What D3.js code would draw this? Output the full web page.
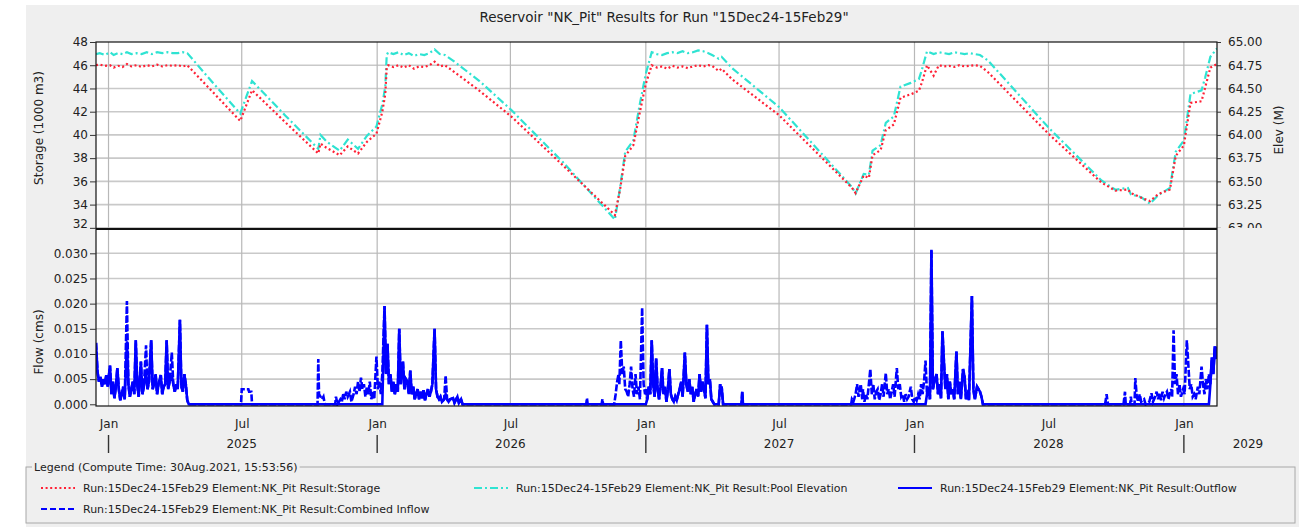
<!DOCTYPE html>
<html><head><meta charset="utf-8">
<script src="https://cdn.jsdelivr.net/npm/d3@7"></script>
<style>
html,body{margin:0;padding:0;background:#ffffff;}
svg{display:block;font-family:"DejaVu Sans",Verdana,sans-serif;}
</style></head><body>
<svg id="chart" width="1299" height="530"></svg>
<script>
// ---------------- DATA ----------------
const storageTicks = [32, 34, 36, 38, 40, 42, 44, 46, 48];
const elevTicks = [63.00, 63.25, 63.50, 63.75, 64.00, 64.25, 64.50, 64.75, 65.00];
const flowTicks = [0, 0.005, 0.010, 0.015, 0.020, 0.025, 0.030];
const yearLabels = ["2025", "2026", "2027", "2028", "2029"];

const levelDates = [
 "2024-12-15","2024-12-20","2024-12-27","2025-01-03","2025-01-08","2025-01-14",
 "2025-01-20","2025-01-26","2025-02-01","2025-02-08","2025-02-15","2025-02-22",
 "2025-03-01","2025-03-08","2025-03-15","2025-03-22","2025-03-29","2025-04-05",
 "2025-04-12","2025-04-18","2025-05-24","2025-06-29","2025-07-15","2025-08-29",
 "2025-10-13","2025-10-16","2025-10-24","2025-11-11","2025-11-22","2025-12-06",
 "2025-12-18","2025-12-31","2026-01-08","2026-01-12","2026-01-14","2026-01-16",
 "2026-01-23","2026-01-30","2026-02-06","2026-02-13","2026-02-20","2026-02-27",
 "2026-03-06","2026-03-13","2026-03-20","2026-03-27","2026-04-03","2026-04-14",
 "2026-05-20","2026-07-02","2026-09-10","2026-11-20","2026-11-27","2026-12-04",
 "2026-12-15","2026-12-24","2027-01-01","2027-01-09","2027-01-16","2027-01-23",
 "2027-01-30","2027-02-06","2027-02-13","2027-02-20","2027-02-27","2027-03-06",
 "2027-03-13","2027-03-20","2027-03-27","2027-04-01","2027-04-10","2027-04-14",
 "2027-04-28","2027-07-01","2027-10-08","2027-10-13","2027-10-24","2027-10-31",
 "2027-11-05","2027-11-16","2027-11-23","2027-12-04","2027-12-13","2027-12-27",
 "2028-01-07","2028-01-11","2028-01-18","2028-01-27","2028-02-03","2028-02-10",
 "2028-02-17","2028-02-24","2028-03-02","2028-03-09","2028-03-16","2028-03-23",
 "2028-03-30","2028-04-10","2028-07-01","2028-09-11","2028-09-30","2028-10-17",
 "2028-10-21","2028-11-04","2028-11-16","2028-11-27","2028-12-13","2028-12-21",
 "2029-01-01","2029-01-10","2029-01-25","2029-01-30","2029-02-06","2029-02-15"
];
// Storage (1000 m3)
const storage = [
 46.00,46.05,45.95,46.00,45.80,45.95,
 45.85,46.10,45.90,46.00,45.85,46.00,
 45.90,46.05,45.90,46.00,45.95,46.00,
 45.90,46.00,43.60,41.20,43.85,41.10,
 38.40,39.25,38.90,38.25,39.00,38.40,
 39.40,40.10,42.00,43.50,45.80,46.00,
 45.85,46.00,45.80,46.00,45.70,45.90,
 45.85,46.00,46.30,45.90,46.00,45.50,
 43.80,41.60,37.40,33.10,35.30,38.20,
 39.10,42.00,44.40,46.00,45.80,45.90,
 45.70,45.95,45.80,45.90,45.75,45.90,
 46.00,45.90,46.00,45.95,45.50,45.70,
 44.80,41.70,35.45,35.00,36.50,36.30,
 38.25,38.70,40.40,40.90,43.20,43.50,
 43.80,44.50,46.00,45.10,46.00,45.90,
 45.95,45.85,46.00,45.90,45.95,46.00,
 45.95,45.40,40.10,35.90,35.20,35.30,
 35.00,34.60,34.30,34.90,35.30,38.20,
 39.10,42.75,42.90,44.10,45.80,46.10
];
// Pool Elevation (M)
const poolElevation = [
 64.87,64.88,64.86,64.89,64.86,64.88,
 64.87,64.89,64.87,64.88,64.87,64.89,
 64.87,64.89,64.88,64.89,64.88,64.88,
 64.89,64.88,64.55,64.23,64.58,64.21,
 63.85,64.00,63.93,63.83,63.95,63.85,
 63.99,64.09,64.33,64.52,64.86,64.89,
 64.87,64.89,64.86,64.88,64.85,64.87,
 64.86,64.88,64.92,64.87,64.86,64.80,
 64.58,64.27,63.71,63.09,63.43,63.82,
 63.94,64.34,64.66,64.89,64.87,64.86,
 64.88,64.89,64.88,64.90,64.88,64.89,
 64.91,64.90,64.88,64.86,64.82,64.84,
 64.72,64.30,63.44,63.37,63.58,63.57,
 63.83,63.89,64.13,64.20,64.52,64.56,
 64.60,64.70,64.90,64.87,64.89,64.88,
 64.87,64.89,64.88,64.87,64.88,64.87,
 64.86,64.80,64.08,63.51,63.41,63.43,
 63.36,63.33,63.26,63.35,63.43,63.82,
 63.94,64.44,64.48,64.62,64.84,64.93
];

// Flow (cms): [date, combined inflow, outflow]
const flowSeason2025 = [
 ["2024-12-15",0.0122,0.0122],["2024-12-17",0.0065,0.0065],["2024-12-19",0.0045,0.0045],
 ["2024-12-21",0.0055,0.0055],["2024-12-23",0.0035,0.0035],["2024-12-25",0.0050,0.0050],
 ["2024-12-27",0.0040,0.0040],["2024-12-29",0.0058,0.0058],["2024-12-31",0.0035,0.0035],
 ["2025-01-03",0.0077,0.0077],["2025-01-05",0.0020,0.0020],["2025-01-07",0.0045,0.0045],
 ["2025-01-09",0.0012,0.0012],["2025-01-11",0.0035,0.0035],["2025-01-13",0.0072,0.0072],
 ["2025-01-15",0.0030,0.0030],["2025-01-17",0.0008,0.0008],["2025-01-19",0.0020,0.0020],
 ["2025-01-21",0.0035,0.0035],["2025-01-23",0.0010,0.0010],["2025-01-26",0.0205,0.0125],
 ["2025-01-28",0.0040,0.0040],["2025-01-30",0.0015,0.0015],["2025-02-01",0.0030,0.0030],
 ["2025-02-03",0.0045,0.0045],["2025-02-05",0.0020,0.0020],["2025-02-07",0.0127,0.0127],
 ["2025-02-09",0.0040,0.0040],["2025-02-11",0.0015,0.0015],["2025-02-14",0.0085,0.0085],
 ["2025-02-16",0.0020,0.0020],["2025-02-18",0.0035,0.0035],["2025-02-21",0.0117,0.0065],
 ["2025-02-23",0.0030,0.0030],["2025-02-25",0.0045,0.0045],["2025-02-28",0.0127,0.0127],
 ["2025-03-02",0.0030,0.0030],["2025-03-04",0.0042,0.0042],["2025-03-06",0.0060,0.0060],
 ["2025-03-08",0.0020,0.0020],["2025-03-10",0.0040,0.0040],["2025-03-13",0.0058,0.0058],
 ["2025-03-15",0.0020,0.0020],["2025-03-17",0.0035,0.0035],["2025-03-19",0.0040,0.0040],
 ["2025-03-21",0.0127,0.0127],["2025-03-23",0.0030,0.0030],["2025-03-25",0.0045,0.0045],
 ["2025-03-28",0.0103,0.0058],["2025-03-30",0.0040,0.0040],["2025-04-01",0.0025,0.0025],
 ["2025-04-03",0.0040,0.0040],["2025-04-05",0.0030,0.0030],["2025-04-08",0.0168,0.0168],
 ["2025-04-10",0.0035,0.0035],["2025-04-12",0.0025,0.0025],["2025-04-14",0.0060,0.0060],
 ["2025-04-16",0.0040,0.0040],["2025-04-18",0.0008,0.0008],["2025-04-20",0,0],
 ["2025-06-30",0,0],["2025-07-01",0.0030,0],["2025-07-10",0.0030,0],
 ["2025-07-11",0.0025,0],["2025-07-14",0.0025,0],["2025-07-15",0,0]
];
const flowSeason2026 = [
 ["2025-10-12",0,0],["2025-10-13",0.0090,0],["2025-10-14",0.0020,0],
 ["2025-10-16",0.0015,0],["2025-10-18",0.0010,0],["2025-10-20",0.0015,0],
 ["2025-10-22",0,0],["2025-11-05",0,0],["2025-11-06",0.0015,0],
 ["2025-11-08",0,0],["2025-11-12",0.0010,0],["2025-11-14",0.0005,0],
 ["2025-11-16",0.0022,0],["2025-11-18",0.0010,0],["2025-11-20",0.0025,0],
 ["2025-11-22",0.0015,0],["2025-11-25",0.0025,0],["2025-11-27",0.0005,0],
 ["2025-11-30",0.0020,0],["2025-12-02",0.0035,0],["2025-12-04",0.0020,0],
 ["2025-12-06",0.0045,0],["2025-12-08",0.0025,0],["2025-12-10",0.0053,0],
 ["2025-12-12",0.0030,0],["2025-12-14",0.0040,0],["2025-12-16",0.0015,0],
 ["2025-12-18",0.0035,0],["2025-12-20",0.0020,0],["2025-12-22",0.0045,0],
 ["2025-12-24",0.0010,0],["2025-12-26",0.0025,0],["2025-12-28",0.0010,0],
 ["2025-12-31",0.0095,0],["2026-01-02",0.0030,0],["2026-01-04",0.0045,0],
 ["2026-01-06",0.0020,0],["2026-01-08",0.0060,0],["2026-01-11",0.0195,0.0195],
 ["2026-01-13",0.0060,0.0060],["2026-01-15",0.0120,0.0120],["2026-01-17",0.0040,0.0040],
 ["2026-01-19",0.0060,0.0060],["2026-01-21",0.0025,0.0025],["2026-01-23",0.0045,0.0045],
 ["2026-01-25",0.0020,0.0020],["2026-01-27",0.0040,0.0040],["2026-01-29",0.0025,0.0025],
 ["2026-01-31",0.0150,0.0150],["2026-02-02",0.0040,0.0040],["2026-02-05",0.0085,0.0085],
 ["2026-02-07",0.0030,0.0030],["2026-02-09",0.0050,0.0050],["2026-02-11",0.0045,0.0045],
 ["2026-02-13",0.0020,0.0020],["2026-02-15",0.0067,0.0067],["2026-02-17",0.0020,0.0020],
 ["2026-02-19",0.0035,0.0035],["2026-02-21",0.0010,0.0010],["2026-02-23",0.0020,0.0020],
 ["2026-02-25",0.0030,0.0030],["2026-02-27",0.0010,0.0010],["2026-03-01",0.0025,0.0025],
 ["2026-03-03",0.0012,0.0012],["2026-03-05",0.0028,0.0028],["2026-03-07",0.0008,0.0008],
 ["2026-03-09",0.0020,0.0020],["2026-03-11",0.0030,0.0030],["2026-03-13",0.0015,0.0015],
 ["2026-03-15",0.0025,0.0025],["2026-03-17",0.0040,0.0040],["2026-03-20",0.0150,0.0150],
 ["2026-03-22",0.0030,0.0030],["2026-03-24",0.0015,0.0015],["2026-03-26",0.0010,0.0010],
 ["2026-03-28",0.0015,0.0015],["2026-03-30",0.0005,0.0005],["2026-04-02",0.0010,0.0010],
 ["2026-04-04",0.0057,0.0020],["2026-04-06",0.0010,0.0010],["2026-04-08",0.0005,0.0005],
 ["2026-04-10",0.0010,0.0010],["2026-04-14",0.0012,0.0012],["2026-04-16",0.0003,0.0003],
 ["2026-04-20",0.0015,0.0015],["2026-04-22",0.0003,0.0003],["2026-04-25",0.0010,0.0010],
 ["2026-04-27",0,0]
];
const flowSeason2027 = [
 ["2026-10-12",0,0],["2026-10-13",0.0012,0],["2026-10-14",0,0],
 ["2026-11-02",0,0],["2026-11-03",0.0010,0],["2026-11-04",0,0],
 ["2026-11-19",0,0],["2026-11-21",0.0020,0],["2026-11-23",0.0045,0],
 ["2026-11-25",0.0060,0],["2026-11-26",0.0040,0],["2026-11-28",0.0127,0],
 ["2026-11-30",0.0060,0],["2026-12-02",0.0075,0],["2026-12-04",0.0030,0],
 ["2026-12-06",0.0025,0],["2026-12-08",0.0015,0],["2026-12-10",0.0040,0],
 ["2026-12-12",0.0075,0],["2026-12-14",0.0030,0],["2026-12-16",0.0015,0],
 ["2026-12-18",0.0060,0],["2026-12-20",0.0020,0],["2026-12-22",0.0035,0],
 ["2026-12-24",0.0010,0],["2026-12-27",0.0192,0],["2026-12-29",0.0040,0],
 ["2026-12-31",0.0020,0],["2027-01-01",0.0030,0],["2027-01-03",0.0010,0.0010],
 ["2027-01-05",0.0035,0.0035],["2027-01-07",0.0020,0.0020],["2027-01-09",0.0127,0.0127],
 ["2027-01-11",0.0040,0.0040],["2027-01-13",0.0015,0.0015],["2027-01-15",0.0091,0.0091],
 ["2027-01-17",0.0030,0.0030],["2027-01-19",0.0010,0.0010],["2027-01-21",0.0035,0.0035],
 ["2027-01-23",0.0072,0.0072],["2027-01-25",0.0020,0.0020],["2027-01-27",0.0035,0.0035],
 ["2027-01-29",0.0005,0.0005],["2027-01-31",0.0030,0.0030],["2027-02-02",0.0070,0.0070],
 ["2027-02-04",0.0020,0.0020],["2027-02-06",0.0010,0.0010],["2027-02-08",0.0005,0.0005],
 ["2027-02-10",0.0015,0.0015],["2027-02-12",0.0008,0.0008],["2027-02-14",0.0020,0.0020],
 ["2027-02-16",0.0030,0.0030],["2027-02-18",0.0045,0.0045],["2027-02-20",0.0015,0.0015],
 ["2027-02-23",0.0103,0.0103],["2027-02-25",0.0040,0.0040],["2027-02-27",0.0025,0.0025],
 ["2027-03-01",0.0050,0.0050],["2027-03-03",0.0020,0.0020],["2027-03-05",0.0035,0.0035],
 ["2027-03-07",0.0005,0.0005],["2027-03-09",0.0020,0.0020],["2027-03-11",0.0030,0.0030],
 ["2027-03-13",0.0015,0.0015],["2027-03-15",0.0060,0.0060],["2027-03-17",0.0025,0.0025],
 ["2027-03-19",0.0045,0.0045],["2027-03-21",0.0030,0.0030],["2027-03-23",0.0012,0.0012],
 ["2027-03-25",0.0158,0.0158],["2027-03-27",0.0040,0.0040],["2027-03-29",0.0050,0.0050],
 ["2027-03-31",0.0010,0.0010],["2027-04-02",0.0005,0.0005],["2027-04-04",0,0],
 ["2027-04-10",0,0],["2027-04-12",0.0040,0.0040],["2027-04-13",0.0020,0.0020],
 ["2027-04-14",0.0035,0.0035],["2027-04-16",0,0],["2027-05-11",0,0],
 ["2027-05-12",0.0025,0.0025],["2027-05-13",0,0]
];
const flowSeason2028 = [
 ["2027-10-07",0,0],["2027-10-08",0.0010,0],["2027-10-10",0.0005,0],
 ["2027-10-13",0.0020,0],["2027-10-15",0.0040,0],["2027-10-17",0.0015,0],
 ["2027-10-20",0.0040,0],["2027-10-22",0.0010,0],["2027-10-23",0.0030,0],
 ["2027-10-25",0.0005,0],["2027-10-27",0.0020,0],["2027-10-29",0.0010,0],
 ["2027-11-02",0.0070,0],["2027-11-04",0.0020,0],["2027-11-06",0.0040,0],
 ["2027-11-08",0.0010,0],["2027-11-10",0.0025,0],["2027-11-12",0.0030,0],
 ["2027-11-14",0.0008,0],["2027-11-16",0.0020,0],["2027-11-18",0.0040,0],
 ["2027-11-20",0.0015,0],["2027-11-23",0.0062,0],["2027-11-25",0.0020,0],
 ["2027-11-27",0.0030,0],["2027-11-29",0.0010,0],["2027-12-01",0.0025,0],
 ["2027-12-03",0.0040,0],["2027-12-05",0.0015,0],["2027-12-08",0.0072,0],
 ["2027-12-10",0.0030,0],["2027-12-12",0.0040,0],["2027-12-14",0.0015,0],
 ["2027-12-16",0.0020,0],["2027-12-18",0.0005,0],["2027-12-20",0.0020,0],
 ["2027-12-22",0.0010,0],["2027-12-24",0.0015,0],["2027-12-27",0.0035,0],
 ["2027-12-29",0.0010,0],["2027-12-31",0.0005,0],["2028-01-02",0.0015,0],
 ["2028-01-04",0.0008,0],["2028-01-06",0.0020,0],["2028-01-08",0.0010,0],
 ["2028-01-10",0.0040,0],["2028-01-12",0.0020,0],["2028-01-14",0.0045,0],
 ["2028-01-16",0.0087,0],["2028-01-18",0.0020,0.0020],["2028-01-20",0.0035,0.0035],
 ["2028-01-22",0.0010,0.0010],["2028-01-24",0.0307,0.0307],["2028-01-26",0.0030,0.0030],
 ["2028-01-28",0.0045,0.0045],["2028-01-31",0.0060,0.0060],["2028-02-02",0.0020,0.0020],
 ["2028-02-04",0.0040,0.0040],["2028-02-06",0.0012,0.0012],["2028-02-08",0.0145,0.0145],
 ["2028-02-10",0.0085,0.0085],["2028-02-12",0.0030,0.0030],["2028-02-14",0.0060,0.0060],
 ["2028-02-16",0.0010,0.0010],["2028-02-18",0.0045,0.0045],["2028-02-20",0.0020,0.0020],
 ["2028-02-22",0.0030,0.0030],["2028-02-24",0.0010,0.0010],["2028-02-27",0.0105,0.0105],
 ["2028-02-29",0.0020,0.0020],["2028-03-02",0.0045,0.0045],["2028-03-04",0.0010,0.0010],
 ["2028-03-07",0.0070,0.0070],["2028-03-09",0.0055,0.0055],["2028-03-11",0.0010,0.0010],
 ["2028-03-13",0.0020,0.0020],["2028-03-15",0.0008,0.0008],["2028-03-19",0.0215,0.0215],
 ["2028-03-21",0.0030,0.0030],["2028-03-23",0.0010,0.0010],["2028-03-26",0.0035,0.0035],
 ["2028-03-28",0.0030,0.0030],["2028-03-30",0.0025,0.0025],["2028-04-01",0.0015,0.0015],
 ["2028-04-03",0,0]
];
const flowSeason2029 = [
 ["2028-09-16",0,0],["2028-09-18",0.0020,0],["2028-09-19",0.0008,0],
 ["2028-09-20",0,0],["2028-10-11",0,0],["2028-10-13",0.0025,0],
 ["2028-10-14",0,0],["2028-10-20",0,0],["2028-10-21",0.0015,0],
 ["2028-10-22",0,0],["2028-10-26",0,0],["2028-10-27",0.0052,0],
 ["2028-10-29",0.0015,0],["2028-10-31",0.0005,0],["2028-11-02",0.0020,0],
 ["2028-11-04",0.0005,0],["2028-11-08",0.0010,0],["2028-11-10",0,0],
 ["2028-11-15",0.0005,0],["2028-11-18",0.0022,0],["2028-11-20",0.0005,0],
 ["2028-11-23",0.0015,0],["2028-11-25",0.0025,0],["2028-11-27",0.0010,0],
 ["2028-11-29",0.0022,0],["2028-12-01",0.0008,0],["2028-12-03",0.0025,0],
 ["2028-12-05",0.0012,0],["2028-12-07",0.0020,0],["2028-12-09",0.0025,0],
 ["2028-12-11",0.0010,0],["2028-12-13",0.0022,0],["2028-12-15",0.0030,0],
 ["2028-12-16",0.0015,0],["2028-12-18",0.0147,0],["2028-12-20",0.0040,0],
 ["2028-12-22",0.0060,0],["2028-12-24",0.0020,0],["2028-12-26",0.0040,0],
 ["2028-12-28",0.0015,0],["2028-12-31",0.0030,0],["2029-01-02",0.0020,0],
 ["2029-01-05",0.0127,0],["2029-01-07",0.0080,0],["2029-01-09",0.0030,0],
 ["2029-01-11",0.0040,0],["2029-01-13",0.0015,0],["2029-01-15",0.0020,0],
 ["2029-01-17",0.0010,0],["2029-01-20",0.0035,0],["2029-01-22",0.0020,0],
 ["2029-01-25",0.0075,0],["2029-01-27",0.0040,0],["2029-01-29",0.0020,0],
 ["2029-01-31",0.0050,0],["2029-02-02",0.0030,0],["2029-02-04",0.0060,0],
 ["2029-02-06",0.0040,0.0040],["2029-02-08",0.0093,0.0093],["2029-02-10",0.0060,0.0060],
 ["2029-02-12",0.0115,0.0115],["2029-02-14",0.0090,0.0090],["2029-02-15",0.0115,0.0115]
];

// ---------------- CHART ----------------
const W = 1299, H = 530;
const plotL = 96, plotR = 1217, topY = 42, midY = 229, botY = 406;
const parse = d3.utcParse("%Y-%m-%d");
const svg = d3.select("#chart");

const x = d3.scaleUtc().domain([parse("2024-12-15"), parse("2029-02-15")]).range([plotL, plotR]);
const yS = d3.scaleLinear().domain([31.9, 48]).range([midY, topY]);
const yE = d3.scaleLinear().domain([62.9875, 65]).range([midY, topY]);
const yF = d3.scaleLinear().domain([-0.00034, 0.03483]).range([botY, midY]);

const levels = levelDates.map((d, i) => ({date: parse(d), s: storage[i], e: poolElevation[i]}));
const flows = [].concat(flowSeason2025, flowSeason2026, flowSeason2027, flowSeason2028, flowSeason2029)
  .map(r => ({date: parse(r[0]), inflow: r[1], outflow: r[2]}));

const C = {storage: "#ff2035", elev: "#2fe3d2", flow: "#0000ff"};

// background panel
svg.append("rect").attr("x", 26).attr("y", 5).attr("width", W - 26).attr("height", 522).attr("fill", "#efefef");

// title
svg.append("text").attr("x", 664).attr("y", 22).attr("text-anchor", "middle")
  .attr("font-size", 13.5).attr("fill", "#222")
  .text('Reservoir "NK_Pit" Results for Run "15Dec24-15Feb29"');

// plot white area
svg.append("rect").attr("x", plotL).attr("y", topY).attr("width", plotR - plotL).attr("height", botY - topY).attr("fill", "#fff");

// clip paths
const defs = svg.append("defs");
defs.append("clipPath").attr("id", "clipTop").append("rect")
  .attr("x", plotL).attr("y", topY).attr("width", plotR - plotL).attr("height", midY - topY);
defs.append("clipPath").attr("id", "clipBot").append("rect")
  .attr("x", plotL).attr("y", midY).attr("width", plotR - plotL).attr("height", botY - midY);
defs.append("clipPath").attr("id", "clipRightLabels").append("rect")
  .attr("x", plotR).attr("y", 0).attr("width", 80).attr("height", midY - 1);

// horizontal grid
const grid = svg.append("g");
grid.selectAll("line.hs").data(storageTicks.filter(t => t < 48)).join("line")
  .attr("x1", plotL).attr("x2", plotR).attr("y1", d => yS(d)).attr("y2", d => yS(d))
  .attr("stroke", "#c9c9c9").attr("stroke-width", 1.6);
grid.selectAll("line.hf").data(flowTicks.filter(t => t > 0)).join("line")
  .attr("x1", plotL).attr("x2", plotR).attr("y1", d => yF(d)).attr("y2", d => yF(d))
  .attr("stroke", "#c9c9c9").attr("stroke-width", 1.6);

// vertical grid (Jan / Jul)
const monthTicks = x.ticks(d3.utcMonth.every(6));
grid.selectAll("line.v").data(monthTicks).join("line")
  .attr("x1", d => x(d)).attr("x2", d => x(d)).attr("y1", topY).attr("y2", botY)
  .attr("stroke", "#b8b8b8").attr("stroke-width", 1.2);

// storage & elevation lines
const gTop = svg.append("g").attr("clip-path", "url(#clipTop)");
gTop.append("path").datum(levels)
  .attr("d", d3.line().x(d => x(d.date)).y(d => yE(d.e)))
  .attr("fill", "none").attr("stroke", C.elev).attr("stroke-width", 2.2)
  .attr("stroke-dasharray", "8,3,2,3");
gTop.append("path").datum(levels)
  .attr("d", d3.line().x(d => x(d.date)).y(d => yS(d.s)))
  .attr("fill", "none").attr("stroke", C.storage).attr("stroke-width", 2.2)
  .attr("stroke-dasharray", "2,2.6");

// flow lines
const gBot = svg.append("g").attr("clip-path", "url(#clipBot)");
gBot.append("path").datum(flows)
  .attr("d", d3.line().x(d => x(d.date)).y(d => yF(d.outflow)))
  .attr("fill", "none").attr("stroke", C.flow).attr("stroke-width", 2.6);
gBot.append("path").datum(flows)
  .attr("d", d3.line().x(d => x(d.date)).y(d => yF(d.inflow)))
  .attr("fill", "none").attr("stroke", C.flow).attr("stroke-width", 2.6)
  .attr("stroke-dasharray", "7,2");

// borders
svg.append("rect").attr("x", plotL).attr("y", topY).attr("width", plotR - plotL).attr("height", botY - topY)
  .attr("fill", "none").attr("stroke", "#111").attr("stroke-width", 1.2);
svg.append("line").attr("x1", plotL).attr("x2", plotR).attr("y1", midY).attr("y2", midY)
  .attr("stroke", "#111").attr("stroke-width", 2.2);

// axes
const tickFont = 12, tickColor = "#222";
function styleAxis(g) {
  g.select(".domain").remove();
  g.selectAll(".tick line").attr("stroke", "#333");
  g.selectAll(".tick text").attr("font-size", tickFont).attr("fill", tickColor).attr("font-family", "DejaVu Sans");
}
const axS = svg.append("g").attr("transform", `translate(${plotL},0)`)
  .call(d3.axisLeft(yS).tickValues(storageTicks).tickSize(6).tickPadding(2).tickFormat(d3.format("d")))
  .call(styleAxis);
// keep the lowest label inside the panel
axS.selectAll(".tick text").attr("dy", d => d === 32 ? "-0.05em" : "0.32em");

svg.append("g").attr("clip-path", "url(#clipRightLabels)")
  .append("g").attr("transform", `translate(${plotR},0)`)
  .call(d3.axisRight(yE).tickValues(elevTicks).tickSize(4).tickPadding(7).tickFormat(d3.format(".2f")))
  .call(styleAxis);

svg.append("g").attr("transform", `translate(${plotL},0)`)
  .call(d3.axisLeft(yF).tickValues(flowTicks).tickSize(6).tickPadding(2).tickFormat(d3.format(".3f")))
  .call(styleAxis);

// month labels
svg.append("g").attr("transform", `translate(0,${botY})`)
  .call(d3.axisBottom(x).tickValues(monthTicks).tickSize(0).tickPadding(13).tickFormat(d3.utcFormat("%b")))
  .call(styleAxis);

// year separators & labels
const yearStarts = d3.utcYear.range(parse("2025-01-01"), parse("2029-02-01"));
svg.selectAll("line.yr").data(yearStarts).join("line")
  .attr("x1", d => x(d)).attr("x2", d => x(d)).attr("y1", 435).attr("y2", 453)
  .attr("stroke", "#333").attr("stroke-width", 1.4);
svg.selectAll("text.yr").data(yearLabels).join("text")
  .attr("x", d => Math.min(x(parse(d + "-07-01")), plotR + 31))
  .attr("y", 448).attr("text-anchor", "middle").attr("font-size", tickFont).attr("fill", tickColor)
  .text(d => d);

// axis titles
function vTitle(txt, cx, cy) {
  svg.append("text").attr("transform", `translate(${cx},${cy}) rotate(-90)`)
    .attr("text-anchor", "middle").attr("font-size", 12).attr("fill", "#222").text(txt);
}
vTitle("Storage (1000 m3)", 43, 128);
vTitle("Flow (cms)", 43, 342);
vTitle("Elev (M)", 1283, 130);

// legend
const lg = svg.append("g");
lg.append("rect").attr("x", 26).attr("y", 467).attr("width", 1269).attr("height", 56)
  .attr("fill", "none").attr("stroke", "#a8a8a8").attr("stroke-width", 1);
const lgTitle = "Legend (Compute Time: 30Aug.2021, 15:53:56)";
const lt = lg.append("text").attr("x", 34).attr("y", 471).attr("font-size", 11).attr("fill", "#222").text(lgTitle);
const bb = lt.node().getBBox();
lg.insert("rect", "text").attr("x", bb.x - 2).attr("y", bb.y).attr("width", bb.width + 4).attr("height", bb.height).attr("fill", "#efefef");

const legendItems = [
  {label: "Run:15Dec24-15Feb29 Element:NK_Pit Result:Storage", color: C.storage, dash: "2,2.6", x: 41, y: 488},
  {label: "Run:15Dec24-15Feb29 Element:NK_Pit Result:Pool Elevation", color: C.elev, dash: "8,3,2,3", x: 474, y: 488},
  {label: "Run:15Dec24-15Feb29 Element:NK_Pit Result:Outflow", color: C.flow, dash: null, x: 898, y: 488},
  {label: "Run:15Dec24-15Feb29 Element:NK_Pit Result:Combined Inflow", color: C.flow, dash: "6,3", x: 41, y: 509}
];
legendItems.forEach(it => {
  lg.append("line").attr("x1", it.x).attr("x2", it.x + 34).attr("y1", it.y).attr("y2", it.y)
    .attr("stroke", it.color).attr("stroke-width", 2.2).attr("stroke-dasharray", it.dash);
  lg.append("text").attr("x", it.x + 42).attr("y", it.y + 4).attr("font-size", 11).attr("fill", "#222").text(it.label);
});
</script></body></html>
